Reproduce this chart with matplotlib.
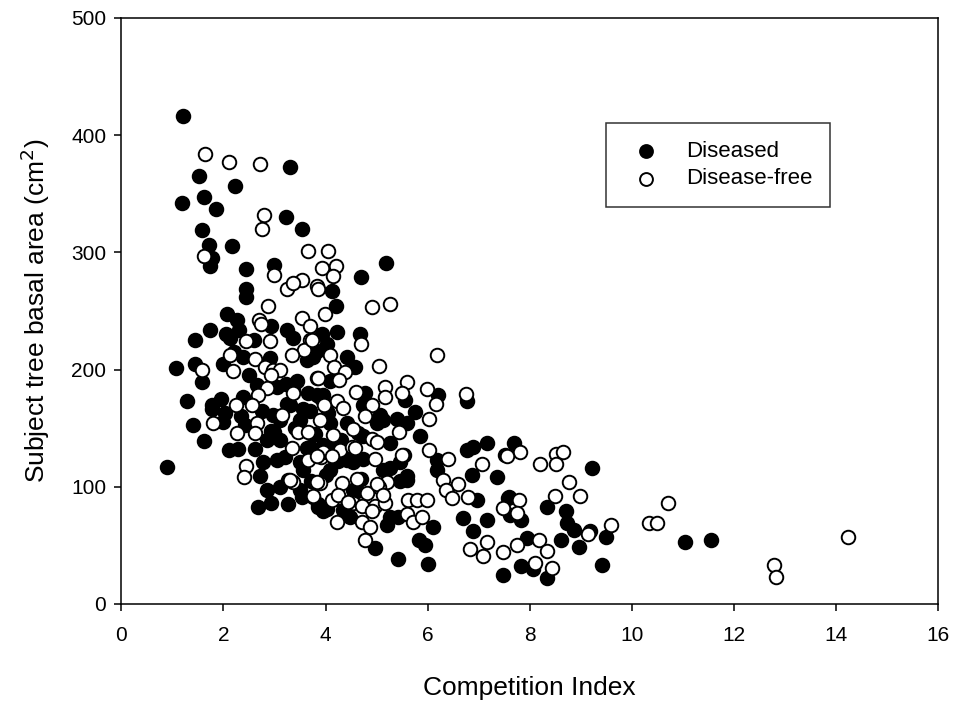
import matplotlib.pyplot as plt

plt.rcParams['font.family'] = ['Liberation Sans', 'DejaVu Sans']

# Diseased trees (filled circles)
diseased_x = [1.20, 3.30, 1.53, 2.23, 1.18, 1.62, 1.85, 3.22, 3.53, 1.57,
              1.72, 2.17, 1.77, 1.74, 2.44, 2.99, 2.44, 2.44, 2.06, 2.26,
              2.94, 1.74, 2.31, 3.24, 3.37, 1.45, 2.13, 3.84, 2.39, 2.91,
              3.63, 1.45, 1.07, 2.00, 1.57, 2.65, 3.22, 3.37, 2.39, 1.28,
              1.77, 3.24, 3.84, 1.77, 2.03, 2.98, 3.30, 1.40, 2.00, 2.42,
              2.93, 3.50, 1.62, 2.11, 2.29, 2.61, 3.63, 2.78, 3.50, 0.89,
              2.72, 3.27, 3.72, 2.85, 2.94, 2.68, 3.26, 3.53, 3.86, 5.19,
              4.69, 4.12, 4.21, 3.93, 4.22, 4.68, 4.02, 3.76, 4.42, 4.58,
              4.09, 4.77, 6.21, 3.96, 3.89, 4.74, 5.55, 6.77, 5.07, 5.40,
              5.75, 5.59, 4.09, 5.00, 5.85, 4.74, 5.26, 3.96, 4.12, 5.53,
              4.54, 5.46, 6.18, 6.77, 6.90, 7.16, 7.52, 5.13, 5.59, 6.18,
              6.87, 7.36, 4.61, 6.96, 7.60, 4.03, 4.35, 5.20, 5.43, 6.11,
              6.70, 7.16, 6.90, 5.83, 5.95, 4.97, 5.43, 6.00, 7.47, 7.70,
              9.22, 7.58, 8.34, 8.72, 7.62, 7.83, 8.73, 8.86, 9.19, 8.62,
              8.96, 9.50, 11.05, 7.94, 7.83, 8.07, 8.35, 9.42, 11.55, 3.04,
              3.11, 3.00, 3.56, 4.05, 3.96, 4.42, 4.64, 5.13, 3.70, 4.42,
              4.74, 5.26, 5.60, 3.56, 4.09, 3.04, 3.11, 3.50, 3.96, 4.54,
              4.70, 5.26, 4.48, 5.45,
              2.05, 2.20, 2.50, 2.60, 1.95, 2.75, 2.85, 3.10, 3.20, 3.40,
              3.70, 3.80, 4.30, 4.00, 4.25, 3.85, 3.65, 2.35, 3.45]
diseased_y = [416, 373, 365, 357, 342, 347, 337, 330, 320, 319,
              306, 305, 295, 288, 286, 289, 269, 262, 247, 242,
              237, 234, 234, 234, 227, 225, 227, 216, 211, 210,
              208, 205, 201, 205, 189, 187, 188, 183, 177, 173,
              170, 171, 178, 166, 163, 161, 170, 153, 155, 153,
              148, 157, 139, 131, 132, 132, 133, 121, 121, 117,
              109, 106, 105, 97, 86, 83, 85, 91, 83, 291,
              279, 267, 254, 230, 232, 230, 222, 211, 211, 202,
              190, 180, 178, 178, 177, 170, 174, 173, 161, 158,
              164, 154, 154, 154, 143, 143, 137, 136, 133, 127,
              121, 121, 123, 131, 134, 137, 127, 114, 109, 114,
              110, 108, 96, 89, 91, 81, 80, 67, 74, 66,
              73, 72, 62, 55, 50, 48, 38, 34, 25, 137,
              116, 90, 83, 79, 76, 72, 69, 63, 62, 55,
              49, 57, 53, 56, 32, 30, 22, 33, 55, 185,
              157, 147, 166, 163, 173, 154, 146, 157, 134, 123,
              124, 116, 106, 114, 114, 123, 100, 97, 79, 97,
              107, 74, 74, 105,
              230, 215, 195, 225, 175, 165, 140, 140, 125, 150,
              165, 145, 140, 110, 122, 85, 180, 160, 190]

# Disease-free trees (open circles)
free_x = [1.64, 2.11, 2.72, 2.79, 2.75, 3.65, 1.62, 2.99, 3.53, 3.24,
          3.37, 3.83, 2.88, 2.70, 2.74, 3.53, 3.70, 2.44, 2.91, 3.70,
          3.58, 2.13, 2.62, 3.34, 1.57, 2.19, 2.82, 2.98, 3.11, 2.94,
          3.83, 2.85, 3.36, 2.67, 2.25, 2.55, 3.15, 1.79, 2.66, 2.26,
          2.62, 3.47, 3.65, 3.34, 3.65, 2.45, 2.41, 3.36, 3.75, 4.04,
          3.93, 4.20, 4.14, 3.86, 4.91, 5.26, 3.99, 4.70, 3.73, 4.09,
          6.18, 5.04, 4.17, 4.38, 3.86, 4.27, 5.59, 5.17, 5.98, 4.60,
          5.49, 6.75, 4.22, 3.97, 4.35, 4.91, 5.17, 6.17, 4.77, 6.02,
          3.89, 4.53, 5.44, 4.15, 4.91, 5.00, 4.28, 4.51, 6.02, 4.97,
          3.91, 6.41, 7.06, 3.89, 4.32, 4.61, 5.20, 5.04, 6.31, 6.60,
          6.37, 4.81, 3.76, 4.12, 4.54, 4.97, 5.17, 5.62, 5.79, 5.98,
          6.47, 6.80, 7.47, 4.22, 4.71, 4.87, 5.59, 5.72, 5.89, 4.77,
          6.83, 7.16, 7.08, 7.47, 7.81, 7.55, 8.52, 8.66, 8.21, 8.52,
          8.77, 8.49, 8.99, 7.80, 7.76, 9.14, 9.60, 10.33, 10.49, 10.72,
          7.76, 8.19, 8.35, 8.11, 8.44, 12.78, 12.83, 14.24, 3.96, 4.58,
          3.83, 4.12, 5.49, 3.83, 3.30, 5.00, 4.24, 4.45, 4.71, 5.13,
          4.91]
free_y = [384, 377, 375, 332, 320, 301, 297, 281, 276, 269,
          274, 271, 254, 242, 239, 244, 237, 224, 224, 225,
          217, 212, 209, 212, 200, 199, 202, 200, 200, 195,
          193, 184, 180, 178, 170, 170, 161, 154, 154, 146,
          146, 147, 147, 133, 123, 118, 108, 104, 91, 301,
          287, 288, 280, 269, 253, 256, 247, 222, 225, 212,
          212, 203, 202, 198, 193, 191, 189, 185, 183, 181,
          180, 179, 173, 170, 167, 170, 177, 171, 160, 158,
          157, 149, 147, 144, 141, 138, 131, 134, 131, 124,
          125, 124, 119, 103, 103, 107, 104, 100, 106, 102,
          97, 95, 92, 89, 86, 84, 86, 89, 89, 89,
          90, 91, 82, 70, 70, 66, 77, 70, 74, 55,
          47, 53, 41, 44, 130, 126, 128, 130, 119, 119,
          104, 92, 92, 89, 78, 60, 67, 69, 69, 86,
          50, 55, 45, 35, 31, 33, 23, 57, 130, 133,
          126, 126, 127, 104, 106, 102, 93, 87, 84, 93,
          79]

fig = plt.figure(figsize=(9.56, 7.07), dpi=100)
ax = fig.add_axes([0.127, 0.1457, 0.854, 0.829])

ax.scatter(diseased_x, diseased_y, s=95, c='black', edgecolors='black',
           linewidths=1.4, label='Diseased', zorder=2)
ax.scatter(free_x, free_y, s=95, c='white', edgecolors='black',
           linewidths=1.4, label='Disease-free', zorder=3)

ax.set_xlim(0, 16)
ax.set_ylim(0, 500)
ax.set_xticks(range(0, 17, 2))
ax.set_yticks(range(0, 501, 100))
ax.tick_params(direction='out', length=5, width=1.1, labelsize=15,
               colors='black', pad=6)
ax.tick_params(axis='x', pad=11)
for sp in ax.spines.values():
    sp.set_linewidth(1.1)

ax.set_xlabel('Competition Index', fontsize=19, labelpad=22)
ax.set_ylabel('Subject tree basal area (cm$^2$)', fontsize=19, labelpad=14)

leg = ax.legend(loc='upper left', bbox_to_anchor=(0.5936, 0.8208),
                fontsize=16, frameon=True, fancybox=False, edgecolor='black',
                borderpad=0.8, handletextpad=0.8, labelspacing=0.3,
                markerscale=0.95, borderaxespad=0)
leg.get_frame().set_linewidth(1.1)

fig.savefig('out.png', dpi=100)
